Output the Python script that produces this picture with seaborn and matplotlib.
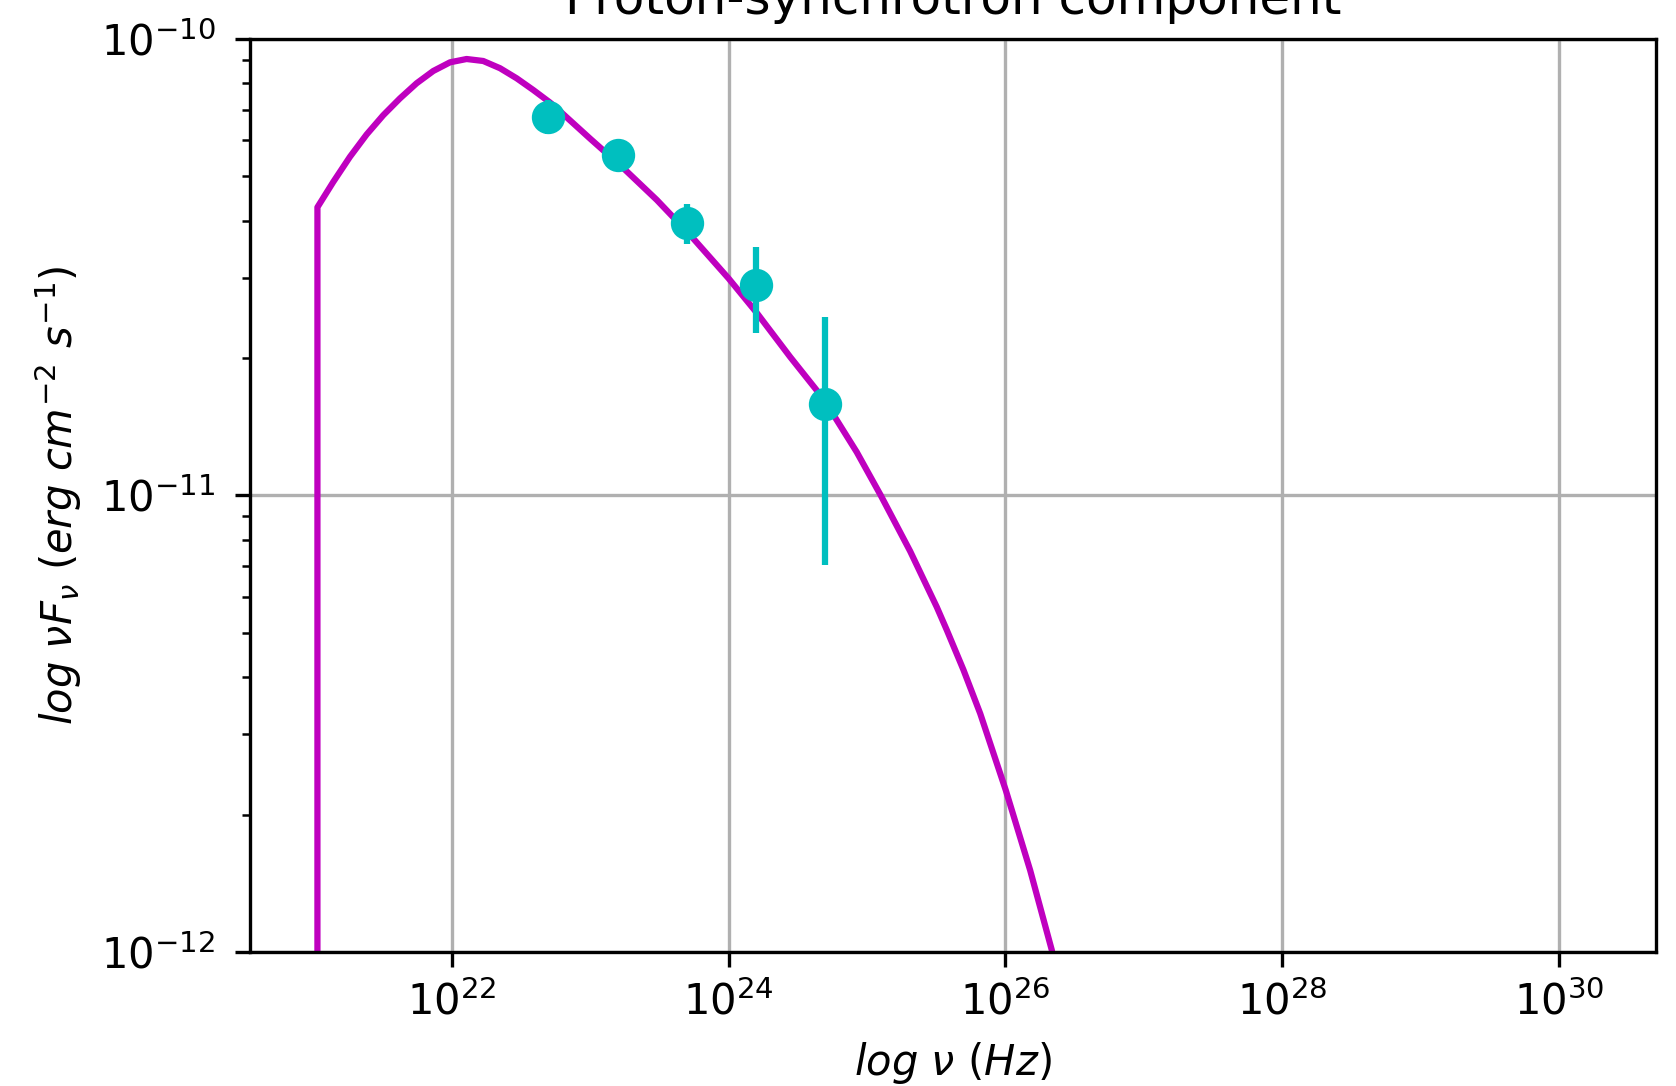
import matplotlib
matplotlib.use("Agg")
import matplotlib.pyplot as plt
import seaborn as sns

# ---- data ----
title = "Proton-synchrotron component"

# model curve (Hz, erg cm^-2 s^-1)
nu_curve = [1.072e21, 1.072e21, 1.393e21, 1.841e21, 2.432e21, 3.206e21, 4.227e21,
            5.585e21, 7.362e21, 9.727e21, 1.282e22, 1.690e22, 2.234e22, 2.951e22, 3.890e22,
            5.129e22, 5.741e22, 1.000e23, 1.742e23, 3.034e23, 5.284e23, 1.000e24, 1.603e24,
            2.793e24, 4.842e24, 8.433e24, 1.259e25, 2.051e25, 3.192e25, 3.776e25, 4.977e25,
            6.577e25, 1.007e26, 1.510e26, 2.163e26, 2.291e26]
flux_curve = [1.0e-13, 4.28e-11, 4.86e-11, 5.52e-11, 6.18e-11, 6.81e-11, 7.41e-11,
              8.00e-11, 8.51e-11, 8.89e-11, 9.04e-11, 8.95e-11, 8.63e-11, 8.20e-11, 7.73e-11,
              7.26e-11, 7.05e-11, 6.05e-11, 5.21e-11, 4.44e-11, 3.72e-11, 2.99e-11, 2.51e-11,
              2.01e-11, 1.63e-11, 1.245e-11, 1.00e-11, 7.55e-12, 5.70e-12, 5.07e-12, 4.15e-12,
              3.33e-12, 2.26e-12, 1.51e-12, 1.01e-12, 9.1e-13]

# observed points
nu_obs = [5.0e22, 1.58e23, 5.0e23, 1.58e24, 5.0e24]
flux_obs = [6.76e-11, 5.57e-11, 3.96e-11, 2.89e-11, 1.585e-11]
flux_err = [0.58e-11, 0.25e-11, 0.40e-11, 0.62e-11, 0.88e-11]

# ---- figure ----
fig = plt.figure(figsize=(1676 / 300, 1086 / 300), dpi=300)
ax = fig.add_axes([0.14916, 0.12339, 0.98807 - 0.14916, 0.96409 - 0.12339])
ax.set_xscale("log")
ax.set_yscale("log")

sns.lineplot(x=nu_curve, y=flux_curve, color="m", linewidth=1.5,
             estimator=None, sort=False, ax=ax)
ax.errorbar(nu_obs, flux_obs, yerr=flux_err, fmt="o", color="c",
            markersize=7, elinewidth=1.5, capsize=0)

ax.set_xlim(10 ** 20.543, 10 ** 30.70)
ax.set_ylim(1e-12, 1e-10)
ax.xaxis.set_minor_locator(matplotlib.ticker.NullLocator())
ax.tick_params(axis="y", which="major", pad=4.8)
ax.grid(True, which="major")

ax.set_title(title, fontsize=12)
ax.set_xlabel(r"$log\ \nu\ (Hz)$", fontsize=10)
ax.set_ylabel(r"$log\ \nu F_\nu\ (erg\ cm^{-2}\ s^{-1})$", fontsize=10)

fig.savefig("out.png", dpi=300)
